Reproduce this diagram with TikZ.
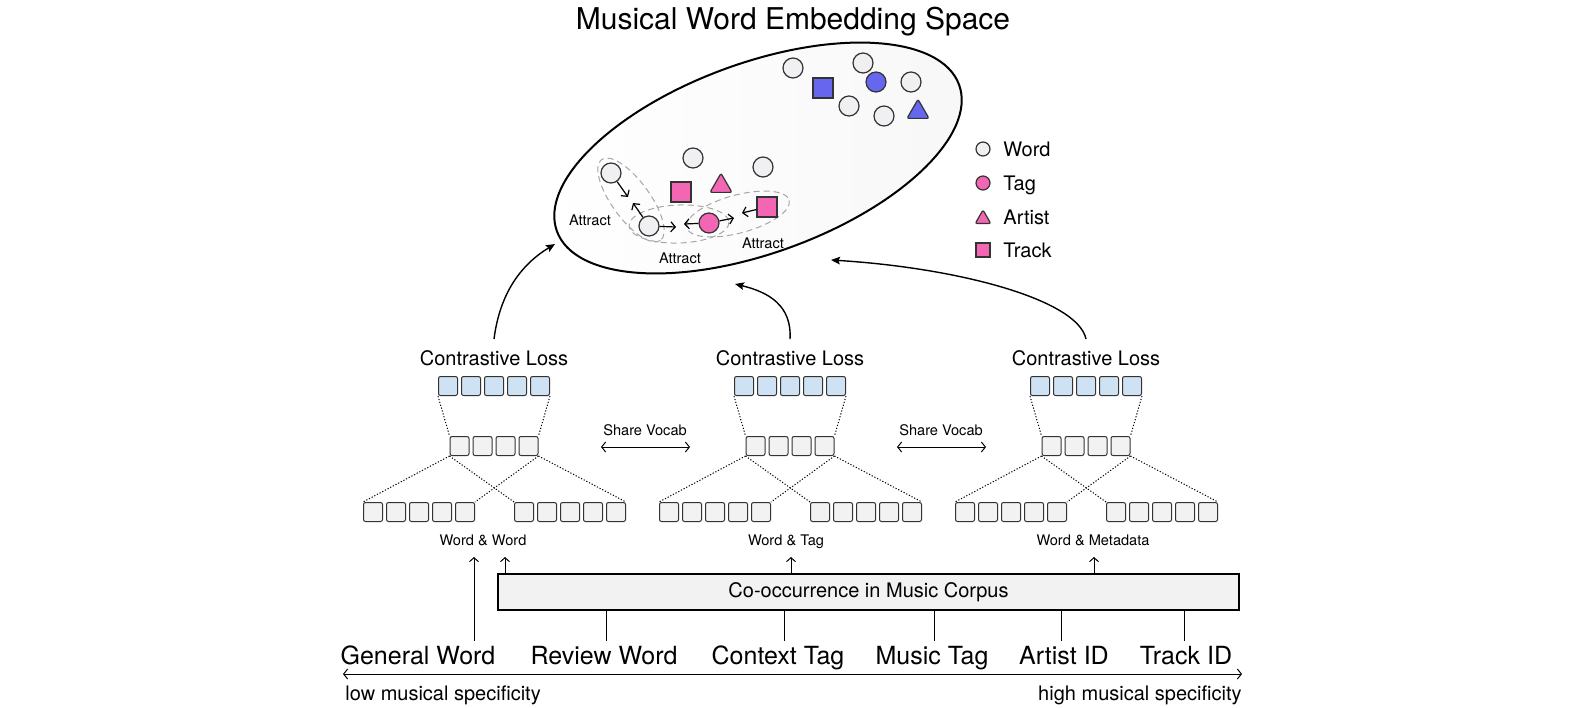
\documentclass[tikz,border=0pt]{standalone}
\usepackage{fontspec}
\setmainfont{TeX Gyre Heros}
\usetikzlibrary{arrows.meta,shapes.geometric,calc}

\definecolor{wordgray}{HTML}{F0F0F3}
\definecolor{tagpink}{HTML}{F266B3}
\definecolor{metablue}{HTML}{6666EE}
\definecolor{cellblue}{HTML}{CFE2F3}
\definecolor{cellgray}{HTML}{F2F2F2}
\definecolor{edgegray}{HTML}{333333}

\tikzset{
  embpt/.style={draw=edgegray, line width=0.6pt, inner sep=0pt},
  wordpt/.style={embpt, circle, fill=wordgray, minimum size=10pt},
  tagpt/.style={embpt, circle, fill=tagpink, minimum size=10pt},
  trackpt/.style={embpt, rectangle, fill=tagpink, minimum size=10pt},
  artistpt/.style={embpt, regular polygon, regular polygon sides=3, fill=tagpink,
    minimum size=12.7pt, rounded corners=1pt},
  cellb/.style={draw=edgegray, line width=0.5pt, fill=cellblue, rounded corners=1pt,
    minimum size=9.5pt, inner sep=0pt},
  cellg/.style={cellb, fill=cellgray},
  dotln/.style={line width=0.5pt, dash pattern=on 0.6pt off 0.9pt},
  grp/.style={gray!70, line width=0.5pt, dash pattern=on 3pt off 2pt},
  pull/.style={line width=0.6pt, -{Straight Barb[length=2.2pt,width=5pt]}},
  curvy/.style={line width=0.7pt, -{Stealth[length=4.5pt,width=3.8pt,inset=0.8pt]}},
  upar/.style={line width=0.5pt, -{Straight Barb[length=2pt,width=4.5pt]}},
  tinytxt/.style={font=\fontsize{7.3}{8}\selectfont, inner sep=1pt},
  midtxt/.style={font=\fontsize{10}{12}\selectfont, inner sep=1.5pt},
  bigtxt/.style={font=\fontsize{12.5}{14}\selectfont, inner sep=2pt},
  losstxt/.style={midtxt, anchor=base, outer ysep=4pt},
}

\begin{document}
\begin{tikzpicture}[x=0.5pt,y=-0.5pt]
  \useasboundingbox (0,0) rectangle (1585,707);
  \node[font=\fontsize{15}{18}\selectfont, anchor=base] (ttl) at (793,29) {Musical Word Embedding Space};

  % embedding space
  \draw[line width=1pt, left color=white, right color=gray!6, rotate around={20:(758,158)}]
    (758,158) ellipse [x radius=214, y radius=95];
  \draw[grp, rotate around={-54:(631,200)}] (631,200) ellipse [x radius=50, y radius=19];
  \draw[grp, rotate around={2:(679,224)}] (679,224) ellipse [x radius=50, y radius=19];
  \draw[grp, rotate around={15:(738,214)}] (738,214) ellipse [x radius=53, y radius=19];

  \node[wordpt] (w1) at (793,68) {};
  \node[wordpt] (w2) at (863,63) {};
  \node[wordpt] (w3) at (911,82) {};
  \node[wordpt] (w4) at (849,106) {};
  \node[wordpt] (w5) at (884,116) {};
  \node[wordpt] (w6) at (693,158) {};
  \node[wordpt] (w7) at (763,167) {};
  \node[wordpt] (w8) at (611,173) {};
  \node[wordpt] (w9) at (649,226) {};
  \node[trackpt, fill=metablue] (btrack) at (823,88) {};
  \node[tagpt, fill=metablue] (btag) at (876,82) {};
  \node[artistpt, fill=metablue] (bartist) at (918,112) {};
  \node[trackpt] (ptrack1) at (681,192) {};
  \node[artistpt] (partist) at (721,186) {};
  \node[tagpt] (ptag) at (709,223) {};
  \node[trackpt] (ptrack2) at (767,207) {};

  \coordinate (a1) at (628,197);
  \coordinate (a2) at (633,203);
  \coordinate (a3) at (676,227);
  \coordinate (a4) at (684,224);
  \coordinate (a5) at (734,218);
  \coordinate (a6) at (742,213);
  \draw[pull] (w8) -- (a1);
  \draw[pull] (w9) -- (a2);
  \draw[pull] (w9) -- (a3);
  \draw[pull] (ptag) -- (a4);
  \draw[pull] (ptag) -- (a5);
  \draw[pull] (ptrack2) -- (a6);

  \node[tinytxt] (att1) at (590,220) {Attract};
  \node[tinytxt] (att2) at (680,258) {Attract};
  \node[tinytxt] (att3) at (763,243) {Attract};

  % legend
  \node[wordpt, minimum size=7pt] (lword) at (983,149) {};
  \node[tagpt, minimum size=7pt] (ltag) at (983,183) {};
  \node[artistpt, minimum size=9pt] (lartist) at (983,219) {};
  \node[trackpt, minimum size=7pt] (ltrack) at (983,250) {};
  \node[midtxt, anchor=base west] (lwordt) at (1000,156) {Word};
  \node[midtxt, anchor=base west] (ltagt) at (1000,190) {Tag};
  \node[midtxt, anchor=base west] (lartistt) at (1000,224) {Artist};
  \node[midtxt, anchor=base west] (ltrackt) at (1000,257) {Track};

  % three contrastive blocks
  \foreach \c/\b/\lx/\pairname in {494/L/483/{Word \& Word}, 790/M/786/{Word \& Tag}, 1086/R/1093/{Word \& Metadata}} {
    \node[losstxt] (\b-loss) at (\c,365) {Contrastive Loss};
    \foreach \i in {1,...,5}
      \node[cellb] (\b-o\i) at ({\c+23*(\i-3)},386) {};
    \foreach \i in {1,...,4}
      \node[cellg] (\b-h\i) at ({\c+23*(\i-2.5)},446) {};
    \foreach \i in {1,...,5} {
      \node[cellg] (\b-a\i) at ({\c-75+23*(\i-3)},512) {};
      \node[cellg] (\b-p\i) at ({\c+76+23*(\i-3)},512) {};
    }
    \draw[dotln] (\b-o1.south west) -- (\b-h1.north west);
    \draw[dotln] (\b-o5.south east) -- (\b-h4.north east);
    \draw[dotln] (\b-h1.south west) -- (\b-a1.north west);
    \draw[dotln] (\b-h1.south west) -- (\b-p1.north west);
    \draw[dotln] (\b-h4.south east) -- (\b-a5.north east);
    \draw[dotln] (\b-h4.south east) -- (\b-p5.north east);
    \node[tinytxt, anchor=base] (\b-pair) at (\lx,545) {\pairname};
  }

  % share vocab
  \coordinate (sv1a) at (601,447);
  \coordinate (sv1b) at (690,447);
  \coordinate (sv2a) at (897,447);
  \coordinate (sv2b) at (986,447);
  \draw[upar, {Straight Barb[length=2pt,width=5pt]}-{Straight Barb[length=2pt,width=5pt]}] (sv1a) -- (sv1b);
  \draw[upar, {Straight Barb[length=2pt,width=5pt]}-{Straight Barb[length=2pt,width=5pt]}] (sv2a) -- (sv2b);
  \node[tinytxt] (sv1) at (645,430) {Share Vocab};
  \node[tinytxt] (sv2) at (941,430) {Share Vocab};

  % into the space
  \coordinate (inL) at (555,244);
  \coordinate (inM) at (735,284);
  \coordinate (inR) at (831,260);
  \draw[curvy] (L-loss.north) .. controls (500,292) and (522,264) .. (inL);
  \draw[curvy] (M-loss.north) .. controls (792,305) and (768,292) .. (inM);
  \draw[curvy] (R-loss.north) .. controls (1078,300) and (960,268) .. (inR);

  % corpus
  \node[draw, line width=0.6pt, fill=cellgray, minimum width=370.5pt, minimum height=18pt,
    midtxt] (cooc) at (868.5,592) {Co-occurrence in Music Corpus};
  \coordinate (upL) at (505,557);
  \coordinate (upM) at (791,557);
  \coordinate (upR) at (1094,557);
  \coordinate (upG) at (474,557);
  \draw[upar] (upL |- cooc.north) -- (upL);
  \draw[upar] (upM |- cooc.north) -- (upM);
  \draw[upar] (upR |- cooc.north) -- (upR);

  \node[bigtxt, anchor=base] (gw) at (418,664) {General Word};
  \node[bigtxt, anchor=base] (rw) at (604,664) {Review Word};
  \node[bigtxt, anchor=base] (ct) at (778,664) {Context Tag};
  \node[bigtxt, anchor=base] (mt) at (932,664) {Music Tag};
  \node[bigtxt, anchor=base] (ai) at (1064,664) {Artist ID};
  \node[bigtxt, anchor=base] (ti) at (1186,664) {Track ID};
  \draw[upar] (upG |- gw.north) -- (upG);
  \draw[line width=0.5pt] (rw.north -| 606,0) -- (cooc.south -| 606,0);
  \draw[line width=0.5pt] (ct.north -| 784,0) -- (cooc.south -| 784,0);
  \draw[line width=0.5pt] (mt.north -| 934,0) -- (cooc.south -| 934,0);
  \draw[line width=0.5pt] (ai.north -| 1061,0) -- (cooc.south -| 1061,0);
  \draw[line width=0.5pt] (ti.north -| 1184,0) -- (cooc.south -| 1184,0);

  % specificity axis
  \coordinate (lowend) at (343,674);
  \coordinate (highend) at (1242,674);
  \draw[line width=0.5pt, {Straight Barb[length=2pt,width=5pt]}-{Straight Barb[length=2pt,width=5pt]}] (lowend) -- (highend);
  \node[midtxt, anchor=base west] (lowtxt) at (342,700) {low musical specificity};
  \node[midtxt, anchor=base east] (hightxt) at (1245,700) {high musical specificity};
\end{tikzpicture}
\end{document}
